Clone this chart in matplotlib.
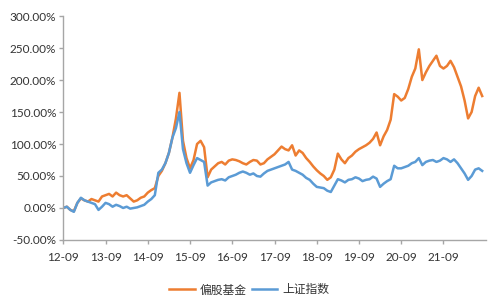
import matplotlib
matplotlib.use("Agg")
import matplotlib.pyplot as plt
from matplotlib.ticker import FuncFormatter

plt.rcParams['font.family'] = ['Lato', 'Noto Sans CJK SC', 'DejaVu Sans']

# months since 2012-09
months = list(range(120))

# 偏股基金 cumulative return (%)
fund = [0, 2, -3, -5, 8, 15, 12, 10, 14, 12,
        10, 18, 20, 22, 18, 24, 20, 18, 20, 15,
        10, 12, 16, 18, 24, 28, 31, 50, 58, 70,
        86, 110, 140, 180, 105, 78, 62, 75, 100, 105,
        95, 48, 60, 65, 70, 72, 68, 74, 76, 75,
        73, 70, 68, 72, 75, 74, 68, 70, 76, 80,
        84, 90, 96, 92, 90, 98, 82, 90, 86, 78,
        72, 65, 59, 54, 50, 44, 48, 60, 85, 76,
        70, 78, 82, 88, 92, 95, 98, 102, 108, 118,
        98, 112, 122, 138, 178, 174, 168, 172, 186, 205,
        218, 248, 200, 212, 222, 230, 238, 222, 218, 222,
        230, 220, 205, 190, 168, 140, 150, 175, 188, 175]

# 上证指数 cumulative return (%)
index = [0, 2, -3, -6, 8, 16, 12, 10, 8, 6,
         -3, 2, 8, 6, 2, 5, 3, 0, 2, -1,
         0, 1, 3, 5, 10, 14, 20, 55, 60, 70,
         86, 110, 125, 150, 92, 70, 55, 67, 78, 75,
         72, 35, 40, 42, 44, 45, 43, 48, 50, 52,
         55, 57, 55, 52, 54, 50, 49, 54, 58, 60,
         62, 64, 66, 68, 72, 60, 58, 55, 52, 47,
         44, 38, 33, 32, 31, 27, 25, 35, 45, 43,
         40, 44, 45, 48, 46, 42, 44, 45, 49, 46,
         33, 38, 42, 45, 66, 62, 62, 64, 66, 70,
         72, 78, 67, 72, 74, 75, 72, 74, 78, 76,
         72, 76, 70, 62, 54, 44, 50, 60, 62, 58]

tick_pos = [0, 12, 24, 36, 48, 60, 72, 84, 96, 108]
tick_labels = ['12-09', '13-09', '14-09', '15-09', '16-09',
               '17-09', '18-09', '19-09', '20-09', '21-09']

fig = plt.figure(figsize=(5, 3.03), dpi=100)
ax = fig.add_axes([0.1266, 0.208, 0.8448, 0.739])

ax.plot(months, fund, color='#ED7D31', lw=1.8, label='偏股基金')
ax.plot(months, index, color='#5B9BD5', lw=1.8, label='上证指数')

ax.set_xlim(0, 120)
ax.set_ylim(-50, 300)
ax.set_yticks(range(-50, 301, 50))
ax.yaxis.set_major_formatter(FuncFormatter(lambda v, p: f"{v:.2f}%"))
ax.set_xticks(tick_pos)
ax.set_xticklabels(tick_labels)

for s in ['top', 'right']:
    ax.spines[s].set_visible(False)
for s in ['left', 'bottom']:
    ax.spines[s].set_color('#A6A6A6')
    ax.spines[s].set_linewidth(1)
ax.tick_params(axis='both', colors='#A6A6A6', labelcolor='#333333',
               labelsize=8.5, length=3, width=1, pad=2)
ax.tick_params(axis='x', pad=6)

ax.legend(loc='upper center', bbox_to_anchor=(0.44, -0.15), ncol=2, frameon=False,
          fontsize=8.5, handlelength=2.2, columnspacing=0.4, handletextpad=0.4,
          labelcolor='#333333')

fig.savefig('out.png', dpi=100)
